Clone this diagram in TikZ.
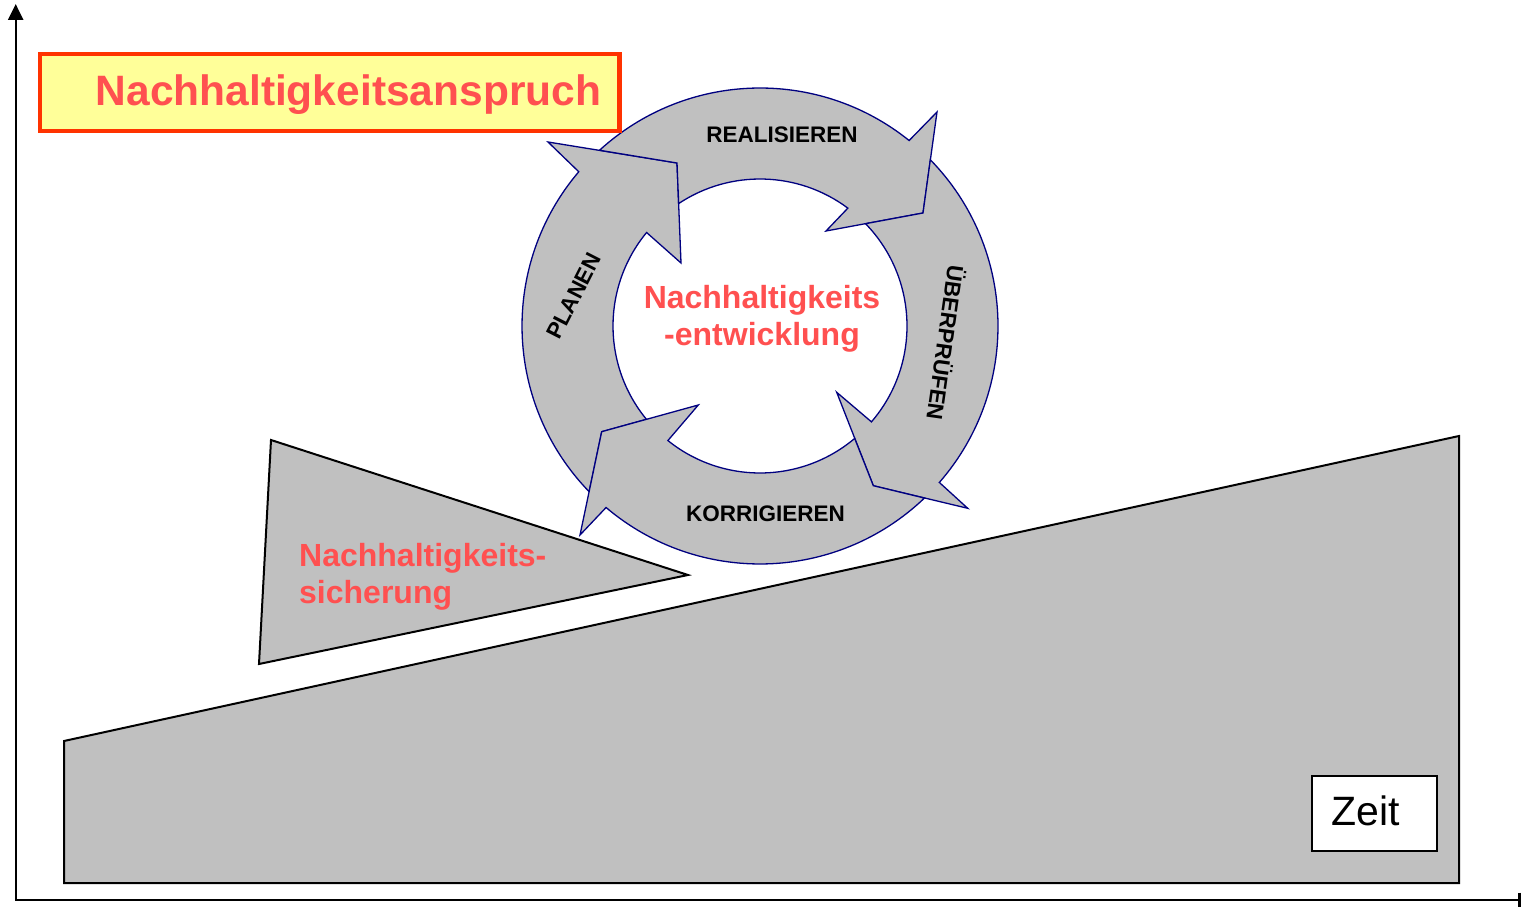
\documentclass[tikz,border=0pt]{standalone}
\usepackage{fontspec}
\newfontfamily\arial{Liberation Sans}
\usetikzlibrary{arrows.meta,calc}
\definecolor{shapegray}{HTML}{C0C0C0}
\definecolor{ringblue}{HTML}{000080}
\definecolor{textred}{HTML}{FF5050}
\definecolor{boxyellow}{HTML}{FFFF99}
\definecolor{boxorange}{HTML}{FF3300}
\begin{document}
\begin{tikzpicture}[x=1pt,y=1pt,
  blockshape/.style={fill=shapegray, draw=black, line width=2pt, line join=miter},
  ringarrow/.style={fill=shapegray, draw=ringblue, line width=1.3pt, line join=miter},
  ringlabel/.style={font=\arial\bfseries\fontsize{22.5}{26}\selectfont, inner sep=0pt},
  redtext/.style={text=textred, font=\arial\bfseries\fontsize{32}{37}\selectfont, inner sep=0pt},
  axisline/.style={line width=2.4pt, line join=miter}
]
\useasboundingbox (0,0) rectangle (1522,906);

% ground shapes
\draw[blockshape] (64,165) -- (1459,470) -- (1459,23) -- (64,23) -- cycle;
\draw[blockshape] (271,466) -- (688,331) -- (259,242) -- cycle;
\node[redtext, align=left, anchor=base west] (secure) at (299,302.5) {Nachhaltigkeits-\\sicherung};

% ring of arrows
\coordinate (c) at (760,580);
\coordinate (h1ob) at (548,764);   \coordinate (h1t) at (677,743);   \coordinate (h1ib) at (681,643);
\coordinate (h2ob) at (937,794);   \coordinate (h2t) at (923,693);   \coordinate (h2ib) at (826,675);
\coordinate (h3ob) at (967.7,397.7); \coordinate (h3t) at (873.3,420.3); \coordinate (h3ib) at (836.7,513.7);
\coordinate (h4ob) at (580,371);   \coordinate (h4t) at (601.7,474.3); \coordinate (h4ib) at (698.3,501);

% PLANEN
\draw[ringarrow] ($(c)+(224.1:238)$) arc[start angle=224.1, end angle=139.6, radius=238pt]
  -- (h1ob) -- (h1t) -- (h1ib) -- ($(c)+(140.5:147)$)
  arc[start angle=140.5, end angle=219.4, radius=147pt] -- (h4t) -- cycle;
% REALISIEREN
\draw[ringarrow] ($(c)+(132.4:238)$) arc[start angle=132.4, end angle=51.2, radius=238pt]
  -- (h2ob) -- (h2t) -- (h2ib) -- ($(c)+(53.3:147)$)
  arc[start angle=53.3, end angle=123.6, radius=147pt] -- (h1t) -- cycle;
% UEBERPRUEFEN
\draw[ringarrow] ($(c)+(44.3:238)$) arc[start angle=44.3, end angle=-41.1, radius=238pt]
  -- (h3ob) -- (h3t) -- (h3ib) -- ($(c)+(-40.7:147)$)
  arc[start angle=-40.7, end angle=44.1, radius=147pt] -- (h2t) -- cycle;
% KORRIGIEREN
\draw[ringarrow] ($(c)+(-46.3:238)$) arc[start angle=-46.3, end angle=-130.3, radius=238pt]
  -- (h4ob) -- (h4t) -- (h4ib) -- ($(c)+(-128.8:147)$)
  arc[start angle=-128.8, end angle=-49.9, radius=147pt] -- (h3t) -- cycle;

\node[ringlabel, anchor=base] (lreal) at (782,763.5) {REALISIEREN};
\node[ringlabel, anchor=base] (lkorr) at (765.5,384.3) {KORRIGIEREN};
\node[ringlabel, rotate=63] (lplan) at (574,610) {PLANEN};
\node[ringlabel, rotate=-98] (luber) at (946.7,563) {ÜBERPRÜFEN};

\node[redtext, align=center, anchor=base] (dev) at (762,560) {Nachhaltigkeits\\-entwicklung};

% title box
\node[draw=boxorange, fill=boxyellow, line width=4.5pt, minimum width=579.5pt, minimum height=77pt, inner sep=0pt] (titlebox) at (329.9,813.25) {};
\node[anchor=base west, text=textred, font=\arial\bfseries\fontsize{42.5}{48}\selectfont, inner sep=0pt] (title) at (95.5,800) {Nachhaltigkeitsanspruch};

% axes
\coordinate (origin) at (15.7,6.3);
\coordinate (ytop) at (15.7,902);
\coordinate (xend) at (1520.7,6.3);
\draw[axisline, {Triangle[width=15pt,length=16pt]}-{Bar[width=14pt]}] (ytop) -- (origin) -- (xend);

% Zeit box
\node[draw=black, fill=white, line width=1.8pt, minimum width=125pt, minimum height=75pt, inner sep=0pt] (zeitbox) at (1374.2,92.7) {};
\node[anchor=base west, font=\arial\fontsize{41}{48}\selectfont, inner sep=0pt] (zeit) at (1331,81) {Zeit};
\end{tikzpicture}
\end{document}
